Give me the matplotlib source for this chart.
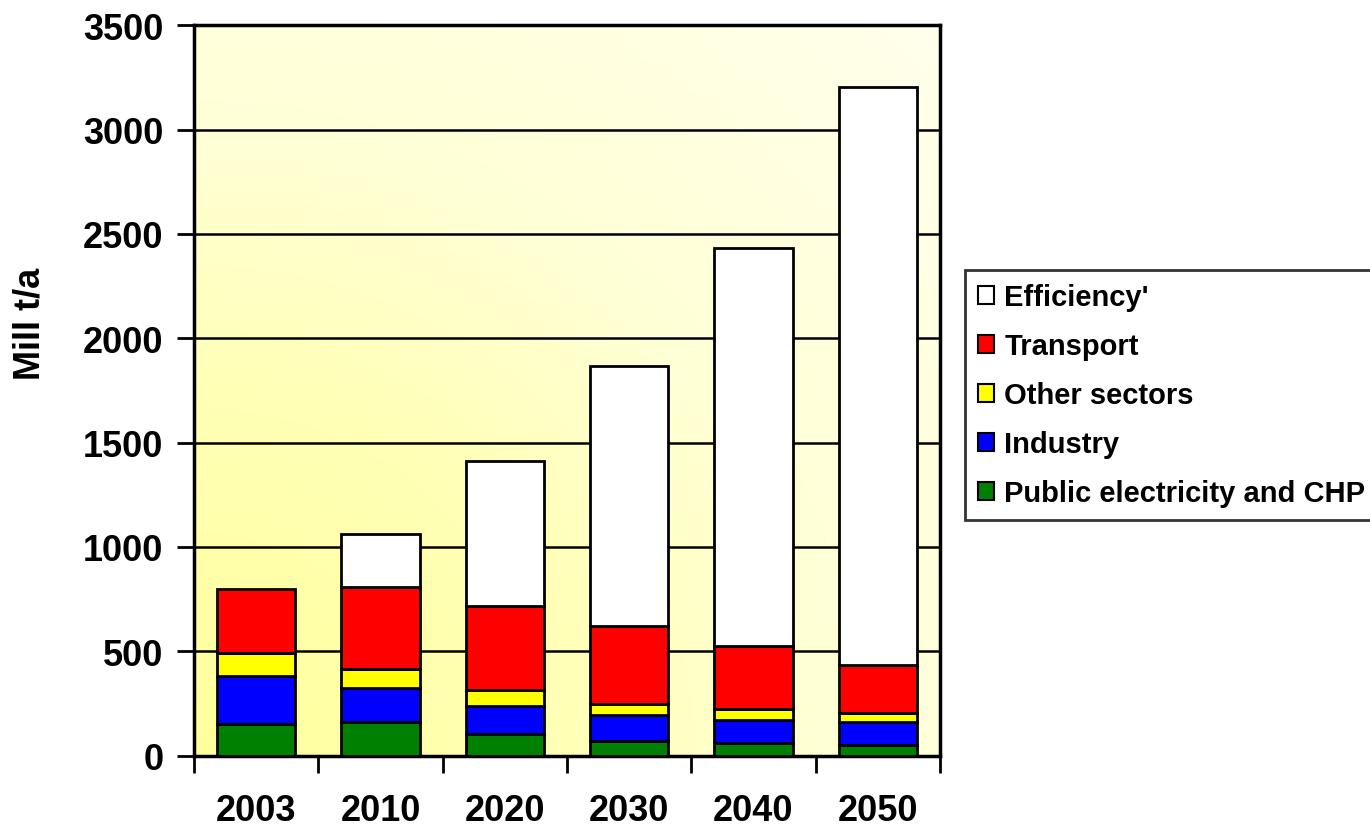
import numpy as np
import matplotlib
matplotlib.use("Agg")
import matplotlib.pyplot as plt
from matplotlib.colors import LinearSegmentedColormap
from matplotlib.patches import Patch

plt.rcParams["font.family"] = ["Liberation Sans", "DejaVu Sans"]
plt.rcParams["font.weight"] = "bold"

years = ["2003", "2010", "2020", "2030", "2040", "2050"]
public_chp = [152, 160, 104, 70, 61, 51]
industry = [229, 165, 133, 125, 112, 111]
other_sectors = [110, 91, 78, 54, 52, 43]
transport = [308, 394, 404, 373, 298, 231]
efficiency = [0, 253, 693, 1247, 1910, 2770]

series = [
    ("Public electricity and CHP", public_chp, "#008000"),
    ("Industry", industry, "#0000FF"),
    ("Other sectors", other_sectors, "#FFFF00"),
    ("Transport", transport, "#FF0000"),
    ("Efficiency'", efficiency, "#FFFFFF"),
]

fig = plt.figure(figsize=(13.7, 8.28), dpi=100)
ax = fig.add_axes([0.1416, 0.0862, 0.5445, 0.8822])

# Plot-area background: yellow gradient fading toward the upper right
ny, nx = 300, 300
yy, xx = np.mgrid[0:1:ny * 1j, 0:1:nx * 1j]
t = np.clip(np.sqrt(xx ** 2 + yy ** 2) / np.sqrt(2), 0, 1)
cmap = LinearSegmentedColormap.from_list(
    "bg", [(0.0, "#FFFF9C"), (0.35, "#FFFFB6"), (0.6, "#FFFFD6"),
           (1.0, "#FFFFEC")])
ax.imshow(t, cmap=cmap, origin="lower", aspect="auto",
          extent=(-0.5, len(years) - 0.5, 0, 3500), zorder=0,
          interpolation="bilinear")

x = np.arange(len(years))
bottom = np.zeros(len(years))
for name, vals, color in series:
    vals = np.asarray(vals, dtype=float)
    mask = vals > 0
    ax.bar(x[mask], vals[mask], width=0.63, bottom=bottom[mask],
           color=color, edgecolor="black", linewidth=2, zorder=3)
    bottom += vals

ax.set_xlim(-0.5, len(years) - 0.5)
ax.set_ylim(0, 3500)
ax.set_yticks(np.arange(0, 3501, 500))
ax.yaxis.grid(True, color="black", linewidth=1.8, zorder=1)
ax.set_axisbelow(False)

# Category labels sit between boundary ticks
ax.set_xticks(np.arange(-0.5, len(years), 1.0))
ax.set_xticklabels([])
ax.set_xticks(x, minor=True)
ax.set_xticklabels(years, minor=True)
ax.tick_params(axis="x", which="major", direction="out", length=12, width=2)
ax.tick_params(axis="x", which="minor", length=0, pad=27, labelsize=26)
ax.tick_params(axis="y", direction="out", length=12, width=2,
               labelsize=26, pad=10)
for lab in ax.get_xticklabels(minor=True) + ax.get_yticklabels():
    lab.set_fontweight("bold")

for sp in ax.spines.values():
    sp.set_linewidth(2.5)
    sp.set_color("black")

ax.set_ylabel("Mill t/a", fontsize=26, fontweight="bold")
ax.yaxis.set_label_coords(-0.197, 0.592)

handles = [Patch(facecolor=c, edgecolor="black", linewidth=1.5, label=n)
           for n, _, c in reversed(series)]
leg = fig.legend(handles=handles, loc="upper left",
                 bbox_to_anchor=(965 / 1370, 1 - 271 / 828),
                 bbox_transform=fig.transFigure,
                 fancybox=False, frameon=True, edgecolor="black",
                 prop={"size": 21, "weight": "bold"},
                 handlelength=0.55, handleheight=0.55, handletextpad=0.35,
                 labelspacing=0.72, borderpad=0.45, borderaxespad=0)
leg.get_frame().set_linewidth(2)

fig.savefig("out.png", dpi=100)
